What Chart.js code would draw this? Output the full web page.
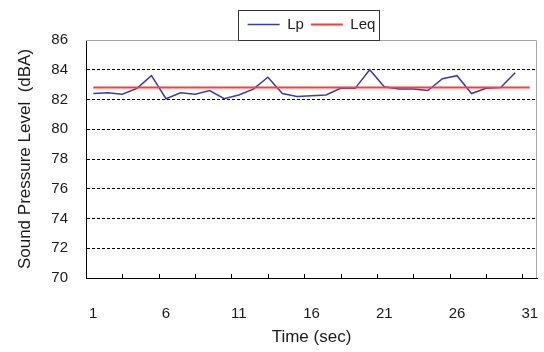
<!DOCTYPE html>
<html>
<head>
<meta charset="utf-8">
<script src="https://cdn.jsdelivr.net/npm/chart.js@4"></script>
<style>
  html, body { margin: 0; padding: 0; background: #fff; }
  #wrap { width: 544px; height: 352px; position: relative; }
</style>
</head>
<body>
<div id="wrap"><canvas id="splChart"></canvas></div>
<script>
// ===== Data =====
const times = [1, 2, 3, 4, 5, 6, 7, 8, 9, 10, 11, 12, 13, 14, 15, 16,
               17, 18, 19, 20, 21, 22, 23, 24, 25, 26, 27, 28, 29, 30, 31];
const lp = [82.4, 82.45, 82.35, 82.75, 83.6, 82.05, 82.45, 82.35, 82.6, 82.05,
            82.3, 82.7, 83.5, 82.4, 82.2, 82.25, 82.3, 82.75, 82.75, 84.0,
            82.85, 82.7, 82.7, 82.6, 83.4, 83.6, 82.4, 82.75, 82.8, 83.8];
const leq = [82.8, 82.8, 82.8, 82.8, 82.8, 82.8, 82.8, 82.8, 82.8, 82.8,
             82.8, 82.8, 82.8, 82.8, 82.8, 82.8, 82.8, 82.8, 82.8, 82.8,
             82.8, 82.8, 82.8, 82.8, 82.8, 82.8, 82.8, 82.8, 82.8, 82.8, 82.8];
const xLabels = [1, 6, 11, 16, 21, 26, 31];
const xTickMarks = [3, 5.5, 8, 10.5, 13, 15.5, 18, 20.5, 23, 25.5, 28, 30.5];
const yTicks = [70, 72, 74, 76, 78, 80, 82, 84, 86];

const FONT = "'Liberation Sans', Arial, sans-serif";

// plot frame (grey top/right), inward x tick marks, legend box
const framePlugin = {
    id: 'frame',
    afterLayout(chart) {
        // nudge legend text down a little inside its box
        chart.legend.top += 2;
    },
    beforeDatasetsDraw(chart) {
        const { ctx, chartArea: a } = chart;
        ctx.save();
        ctx.strokeStyle = '#a6a6a6';
        ctx.lineWidth = 1;
        ctx.beginPath();
        ctx.moveTo(a.left, a.top + 0.5);
        ctx.lineTo(a.right - 0.5, a.top + 0.5);
        ctx.lineTo(a.right - 0.5, a.bottom);
        ctx.stroke();
        ctx.restore();
    },
    afterDraw(chart) {
        const { ctx, chartArea: a } = chart;
        const xs = chart.scales.x;
        ctx.save();
        ctx.strokeStyle = '#000';
        ctx.lineWidth = 1;
        ctx.beginPath();
        xTickMarks.forEach(v => {
            const px = Math.round(xs.getPixelForValue(v)) + 0.5;
            ctx.moveTo(px, a.bottom);
            ctx.lineTo(px, a.bottom - 4);
        });
        ctx.stroke();

        const hb = chart.legend.legendHitBoxes;
        if (hb && hb.length) {
            const last = hb[hb.length - 1];
            const l = Math.round(hb[0].left - 10) + 0.5;
            const r = Math.round(last.left + last.width + 4) + 0.5;
            ctx.strokeStyle = '#333';
            ctx.strokeRect(l, 10.5, r - l, Math.round(a.top) - 10);
        }
        ctx.restore();
    }
};

const config = {
    type: 'line',
    data: {
        datasets: [{
            label: 'Lp',
            data: lp.map((v, i) => ({ x: times[i], y: v })),
            borderColor: '#3c3ca6',
            backgroundColor: '#3c3ca6',
            borderWidth: 1.5,
            pointRadius: 0,
            tension: 0,
            order: 1
        }, {
            label: 'Leq',
            data: leq.map((v, i) => ({ x: times[i], y: v })),
            borderColor: '#ff3b3b',
            backgroundColor: '#ff3b3b',
            borderWidth: 2,
            pointRadius: 0,
            tension: 0,
            order: 0
        }]
    },
    options: {
        responsive: true,
        maintainAspectRatio: false,
        animation: false,
        layout: { padding: { top: 8, right: 7, left: 0, bottom: 0 } },
        plugins: {
            tooltip: { enabled: false },
            legend: {
                position: 'top',
                fullSize: false,
                labels: {
                    usePointStyle: true,
                    pointStyle: 'line',
                    pointStyleWidth: 32,
                    padding: 7,
                    color: '#222',
                    font: { family: FONT, size: 15 },
                    sort: (a, b) => a.datasetIndex - b.datasetIndex
                }
            }
        },
        scales: {
            x: {
                type: 'linear',
                min: 0.5,
                max: 31.5,
                afterBuildTicks: (scale) => {
                    scale.ticks = xLabels.map(v => ({ value: v }));
                },
                afterFit: (scale) => {
                    scale.height = 74;
                    scale.paddingLeft = 0;
                    scale.paddingRight = 0;
                },
                grid: { display: false },
                border: { display: true, color: '#000', width: 1 },
                ticks: {
                    autoSkip: false,
                    maxRotation: 0,
                    padding: 19,
                    color: '#1a1a1a',
                    font: { family: FONT, size: 15 },
                    callback: (v) => v
                },
                title: {
                    display: true,
                    text: 'Time (sec)',
                    color: '#1a1a1a',
                    font: { family: FONT, size: 17 },
                    padding: { top: 0, bottom: 4 }
                }
            },
            y: {
                min: 70,
                max: 86,
                afterBuildTicks: (scale) => {
                    scale.ticks = yTicks.map(v => ({ value: v }));
                },
                afterFit: (scale) => { scale.width = 86; },
                grid: {
                    drawTicks: false,
                    color: (c) => (c.tick && (c.tick.value === 70 || c.tick.value === 86)) ? 'rgba(0,0,0,0)' : '#000',
                    lineWidth: 1
                },
                border: { display: true, color: '#000', width: 1, dash: [3, 2] },
                ticks: {
                    padding: 18,
                    color: '#1a1a1a',
                    font: { family: FONT, size: 15 }
                },
                title: {
                    display: true,
                    text: 'Sound Pressure Level  (dBA)',
                    color: '#1a1a1a',
                    font: { family: FONT, size: 17 },
                    padding: { top: 15, bottom: 0 }
                }
            }
        }
    },
    plugins: [framePlugin]
};

document.addEventListener('DOMContentLoaded', function() {
    new Chart(document.getElementById('splChart'), config);
});
</script>
</body>
</html>
